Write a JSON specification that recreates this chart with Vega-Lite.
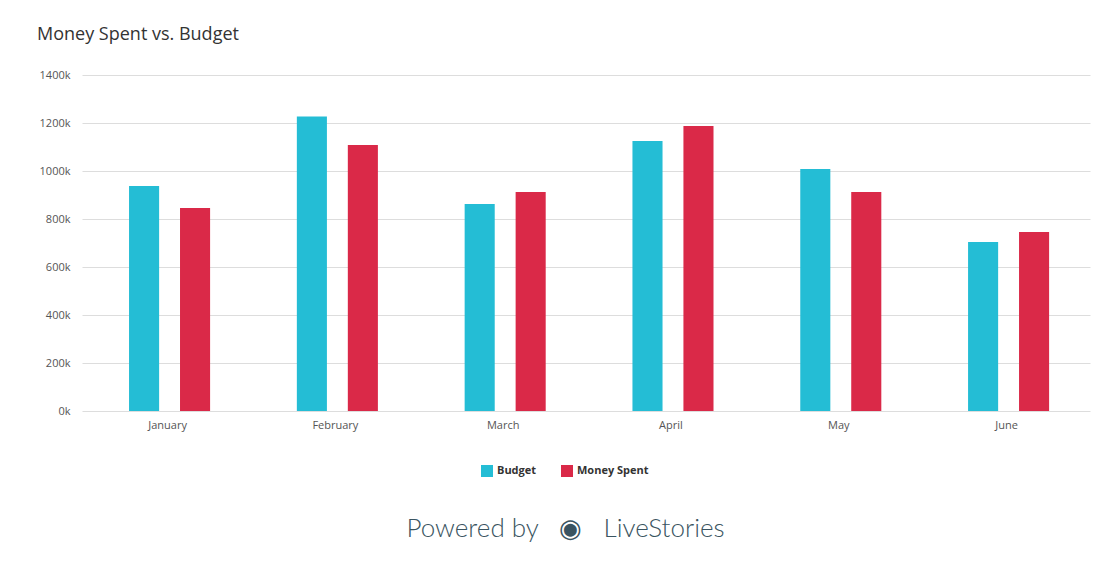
{
  "$schema": "https://vega.github.io/schema/vega-lite/v6.json",
  "autosize": {"type": "none"},
  "width": 1008,
  "height": 336,
  "padding": {"left": 82, "top": 75, "right": 28, "bottom": 150},
  "background": "white",
  "title": {
    "text": "Money Spent vs. Budget",
    "anchor": "start",
    "frame": "group",
    "dx": -45,
    "offset": 25,
    "font": "Open Sans",
    "fontSize": 18,
    "fontWeight": "normal",
    "color": "#333333"
  },
  "data": {
    "values": [
      {"month": "January", "series": "Budget", "amount": 937500},
      {"month": "January", "series": "Money Spent", "amount": 846000},
      {"month": "February", "series": "Budget", "amount": 1227000},
      {"month": "February", "series": "Money Spent", "amount": 1108000},
      {"month": "March", "series": "Budget", "amount": 862500},
      {"month": "March", "series": "Money Spent", "amount": 912500},
      {"month": "April", "series": "Budget", "amount": 1125000},
      {"month": "April", "series": "Money Spent", "amount": 1187500},
      {"month": "May", "series": "Budget", "amount": 1008000},
      {"month": "May", "series": "Money Spent", "amount": 912500},
      {"month": "June", "series": "Budget", "amount": 704000},
      {"month": "June", "series": "Money Spent", "amount": 746000}
    ]
  },
  "mark": {"type": "bar"},
  "encoding": {
    "x": {
      "field": "month",
      "type": "nominal",
      "sort": ["January", "February", "March", "April", "May", "June"],
      "scale": {"paddingInner": 0.517, "paddingOuter": 0.262, "align": 0.535},
      "axis": {
        "labelAngle": 0,
        "labelFont": "Open Sans",
        "labelFontSize": 11,
        "labelColor": "#555555",
        "labelPadding": 8,
        "labelOffset": -2,
        "ticks": false,
        "domain": false,
        "title": "Powered by\u00a0\u00a0\u00a0◉\u00a0\u00a0\u00a0LiveStories",
        "titleFont": "Lato",
        "titleFontSize": 26,
        "titleFontWeight": 300,
        "titleColor": "#3a5461",
        "titleAlign": "left",
        "titleX": 324,
        "titlePadding": 85
      }
    },
    "xOffset": {
      "field": "series",
      "type": "nominal",
      "sort": ["Budget", "Money Spent"],
      "scale": {"paddingInner": 0.41, "paddingOuter": 0}
    },
    "y": {
      "field": "amount",
      "type": "quantitative",
      "scale": {"domain": [0, 1400000], "nice": false},
      "axis": {
        "values": [0, 200000, 400000, 600000, 800000, 1000000, 1200000, 1400000],
        "labelExpr": "format(datum.value / 1000, 'd') + 'k'",
        "labelFont": "Open Sans",
        "labelFontSize": 11,
        "labelColor": "#555555",
        "labelPadding": 12,
        "ticks": false,
        "domain": false,
        "gridColor": "#dddddd",
        "gridWidth": 1,
        "title": null
      }
    },
    "color": {
      "field": "series",
      "type": "nominal",
      "scale": {"domain": ["Budget", "Money Spent"], "range": ["#24bdd5", "#da2948"]},
      "legend": {
        "title": null,
        "orient": "none",
        "direction": "horizontal",
        "legendX": 399,
        "legendY": 390,
        "symbolType": "square",
        "symbolSize": 144,
        "symbolStrokeWidth": 0,
        "symbolOpacity": 1,
        "labelFont": "Open Sans",
        "labelFontSize": 11,
        "labelFontWeight": "bold",
        "labelColor": "#333333",
        "columnPadding": 24
      }
    }
  },
  "config": {
    "view": {"stroke": null}
  }
}
